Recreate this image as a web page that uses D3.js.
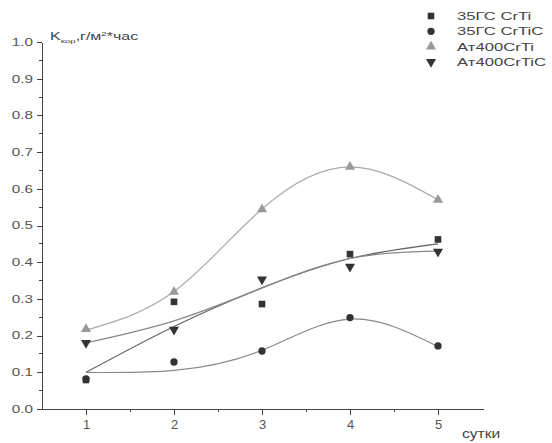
<!doctype html>
<html lang="ru">
<head>
    <meta charset="UTF-8">
    <title>Kкор</title>
    <style>
        body { margin: 0; background: #fff; }
        .chart { display: block; font-family: "Liberation Sans", Arial, sans-serif; }
        .axis path, .axis line { fill: none; stroke: #444; shape-rendering: crispEdges; }
        .axis text { fill: #555; }
    </style>
</head>
<body>
<svg class="chart"></svg>
<script src="https://d3js.org/d3.v7.min.js" charset="utf-8"></script>
<script>
    // days
    var days = [1, 2, 3, 4, 5];
    var seriesNames = ["35ГС CrTi", "35ГС CrTiC", "Ат400CrTi", "Ат400CrTiC"];

    // measured points
    var crTi35 = [0.079, 0.292, 0.286, 0.422, 0.462];
    var crTiC35 = [0.082, 0.128, 0.158, 0.249, 0.172];
    var crTiAt = [0.218, 0.319, 0.544, 0.660, 0.570];
    var crTiCAt = [0.180, 0.216, 0.353, 0.388, 0.429];

    // fitted curves at each day
    var fitCrTi35 = [0.100, 0.225, 0.330, 0.410, 0.450];
    var fitCrTiC35 = [0.100, 0.105, 0.160, 0.245, 0.170];
    var fitCrTiAt = [0.215, 0.320, 0.545, 0.660, 0.570];
    var fitCrTiCAt = [0.180, 0.240, 0.330, 0.410, 0.430];

    var yTicks = [0.0, 0.1, 0.2, 0.3, 0.4, 0.5, 0.6, 0.7, 0.8, 0.9, 1.0];

    var totalWidth = 552, totalHeight = 443;
    var stretch = 1.45; // the scan's text is wider than it is tall

    var svg = d3.select(".chart")
        .attr("width", totalWidth)
        .attr("height", totalHeight);

    var x = d3.scaleLinear().domain([0.5, 5.5]).range([42, 482]);
    var y = d3.scaleLinear().domain([0, 1]).range([409, 42]);

    var series = [
        {name: seriesNames[0], pts: crTi35, fit: fitCrTi35, symbol: d3.symbolSquare, size: 44, rot: 0, color: "#333", line: "#666"},
        {name: seriesNames[1], pts: crTiC35, fit: fitCrTiC35, symbol: d3.symbolCircle, size: 42, rot: 0, color: "#333", line: "#888"},
        {name: seriesNames[2], pts: crTiAt, fit: fitCrTiAt, symbol: d3.symbolTriangle, size: 44, rot: 0, color: "#999", line: "#aaa"},
        {name: seriesNames[3], pts: crTiCAt, fit: fitCrTiCAt, symbol: d3.symbolTriangle, size: 44, rot: 180, color: "#333", line: "#888"}
    ];

    // x axis
    svg.append("g").attr("class", "x axis")
        .attr("transform", "translate(0," + y(0) + ")")
        .call(d3.axisBottom(x).tickValues(days).tickSize(6).tickPadding(5).tickFormat(d3.format("d")))
        .call(function(g) {
            g.select(".domain").attr("d", "M" + x(0.5) + ",0.5H" + (x(5.5) + 2));
            g.selectAll("text").style("font-size", "13px");
        });
    // x minor ticks
    svg.append("g").selectAll("line").data([1.5, 2.5, 3.5, 4.5]).enter()
        .append("line")
        .attr("x1", function(d) { return x(d); }).attr("x2", function(d) { return x(d); })
        .attr("y1", y(0)).attr("y2", y(0) + 3)
        .attr("stroke", "#444").attr("shape-rendering", "crispEdges");

    // y axis
    svg.append("g").attr("class", "y axis")
        .attr("transform", "translate(" + x(0.5) + ",0)")
        .call(d3.axisLeft(y).tickValues(yTicks).tickSize(5).tickPadding(3).tickSizeOuter(0).tickFormat(d3.format(".1f")))
        .call(function(g) {
            g.selectAll("text")
                .style("font-size", "10.5px")
                .attr("x", -9 / stretch)
                .attr("transform", "scale(" + stretch + ",1)");
        });
    // y minor ticks
    svg.append("g").selectAll("line").data(d3.range(0.05, 1, 0.1)).enter()
        .append("line")
        .attr("x1", x(0.5) - 3).attr("x2", x(0.5))
        .attr("y1", function(d) { return y(d); }).attr("y2", function(d) { return y(d); })
        .attr("stroke", "#444").attr("shape-rendering", "crispEdges");

    // y title
    var yt = svg.append("text")
        .attr("transform", "translate(50,40) scale(1.6,1)")
        .style("font-size", "10px").attr("fill", "#444");
    yt.append("tspan").text("K");
    yt.append("tspan").attr("dy", 3).style("font-size", "6px").text("кор");
    yt.append("tspan").attr("dy", -3).text(",г/м");
    yt.append("tspan").attr("dy", -4).style("font-size", "6px").text("2");
    yt.append("tspan").attr("dy", 4).text("*час");

    // x title
    svg.append("text")
        .attr("transform", "translate(462,438) scale(1.3,1)")
        .style("font-size", "12px").attr("fill", "#444").text("сутки");

    // fitted curves
    var line = d3.line()
        .x(function(d, i) { return x(days[i]); })
        .y(function(d) { return y(d); })
        .curve(d3.curveNatural);

    svg.selectAll(".fit").data(series).enter()
        .append("path").attr("class", "fit")
        .attr("d", function(s) { return line(s.fit); })
        .attr("fill", "none")
        .attr("stroke", function(s) { return s.line; })
        .attr("stroke-width", 1.2);

    // markers
    series.forEach(function(s) {
        svg.append("g").selectAll("path").data(s.pts).enter()
            .append("path")
            .attr("d", d3.symbol().type(s.symbol).size(s.size))
            .attr("transform", function(d, i) {
                return "translate(" + x(days[i]) + "," + y(d) + ") rotate(" + s.rot + ")";
            })
            .attr("fill", s.color);
    });

    // legend
    var legend = svg.append("g").selectAll("g").data(series).enter()
        .append("g")
        .attr("transform", function(d, i) { return "translate(431," + (16 + i * 15.3) + ")"; });
    legend.append("path")
        .attr("d", function(s) { return d3.symbol().type(s.symbol).size(s.size)(); })
        .attr("transform", function(s) { return "rotate(" + s.rot + ")"; })
        .attr("fill", function(s) { return s.color; });
    legend.append("text")
        .attr("transform", "translate(26,0) scale(" + stretch + ",1)")
        .attr("dy", "0.35em")
        .style("font-size", "11.5px").attr("fill", "#444")
        .text(function(s) { return s.name; });
</script>
</body>
</html>
